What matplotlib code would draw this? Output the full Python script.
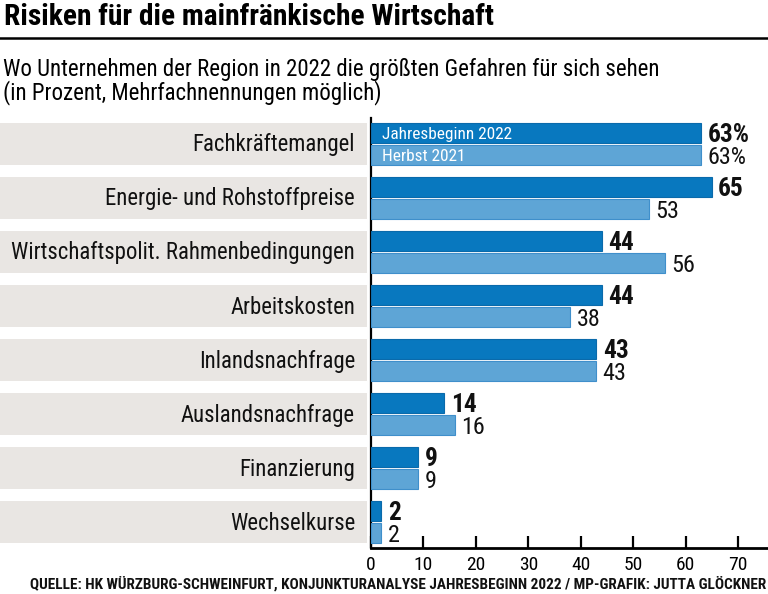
import numpy as np
import matplotlib
matplotlib.use("Agg")
import matplotlib.pyplot as plt
from matplotlib import font_manager as fm
from matplotlib.patches import Rectangle
import matplotlib.transforms as mtransforms

# ---------------- data ----------------
categories = [
    "Fachkräftemangel",
    "Energie- und Rohstoffpreise",
    "Wirtschaftspolit. Rahmenbedingungen",
    "Arbeitskosten",
    "Inlandsnachfrage",
    "Auslandsnachfrage",
    "Finanzierung",
    "Wechselkurse",
]
jahresbeginn_2022 = [63, 65, 44, 44, 43, 14, 9, 2]
herbst_2021 = [63, 53, 56, 38, 43, 16, 9, 2]
series_names = ["Jahresbeginn 2022", "Herbst 2021"]
x_ticks = [0, 10, 20, 30, 40, 50, 60, 70]

title = "Risiken für die mainfränkische Wirtschaft"
subtitle1 = "Wo Unternehmen der Region in 2022 die größten Gefahren für sich sehen"
subtitle2 = "(in Prozent, Mehrfachnennungen möglich)"
source = ("QUELLE: HK WÜRZBURG-SCHWEINFURT, KONJUNKTURANALYSE JAHRESBEGINN 2022 / "
          "MP-GRAFIK: JUTTA GLÖCKNER")

# ---------------- font choice (prefer a condensed face) ----------------
entries = fm.fontManager.ttflist
names = {f.name for f in entries}
FONT, STRETCH = None, "normal"
for cand in ["Liberation Sans Narrow", "Roboto Condensed", "Open Sans Condensed",
             "Noto Sans Condensed", "DejaVu Sans Condensed", "Arial Narrow"]:
    if cand in names:
        FONT = cand
        break
if FONT is None:
    for pref in ["Roboto", "Noto Sans", "Open Sans", "DejaVu Sans", "Lato", "Inter"]:
        ok = [f for f in entries if f.name == pref and str(f.stretch) in
              ("condensed", "semi-condensed", "extra-condensed", "ultra-condensed", "300", "400")]
        if ok:
            FONT, STRETCH = pref, "condensed"
            break
if FONT is None:
    FONT = "Roboto" if "Roboto" in names else "DejaVu Sans"
plt.rcParams["font.family"] = [FONT, "DejaVu Sans"]
plt.rcParams["font.stretch"] = STRETCH

DARK = "#0878bf"
DARK_EDGE = "#0a6aab"
LIGHT = "#5ea5d6"
LIGHT_EDGE = "#3f8fcb"
BAND = "#e9e6e3"

W, H = 768, 594
fig = plt.figure(figsize=(W / 100, H / 100), dpi=100)

def fx(px):
    return px / W

def fy(py):
    return 1 - py / H

ax_left, ax_right, ax_top, ax_bot = 371, 768, 118, 548
ax = fig.add_axes([fx(ax_left), fy(ax_bot), (ax_right - ax_left) / W, (ax_bot - ax_top) / H])

px_per_unit = (738 - 371) / 70.0
ax.set_xlim(0, (ax_right - ax_left) / px_per_unit)
n = len(categories)
y = np.arange(n)
row_px = (ax_bot - ax_top) / (n - 1 + 0.477 + 0.475)
ax.set_ylim(n - 1 + 0.475, -0.477)

off = 11 / row_px
bh = 20 / row_px
ax.barh(y - off, jahresbeginn_2022, height=bh, color=DARK, edgecolor=DARK_EDGE, linewidth=0.8, zorder=3)
ax.barh(y + off, herbst_2021, height=bh, color=LIGHT, edgecolor=LIGHT_EDGE, linewidth=0.8, zorder=3)

# background bands for categories (left of the axis)
trans = mtransforms.blended_transform_factory(fig.transFigure, ax.transData)
band_h = 42 / row_px
for i in y:
    ax.add_artist(Rectangle((0, i - band_h / 2), fx(367), band_h, transform=trans,
                            facecolor=BAND, edgecolor="none", clip_on=False, zorder=0))

# spines / ticks
for s in ["top", "right"]:
    ax.spines[s].set_visible(False)
ax.spines["left"].set_linewidth(1.6)
ax.spines["bottom"].set_linewidth(2.0)
ax.set_yticks([])
ax.set_xticks(x_ticks)
ax.set_xticklabels([str(t) for t in x_ticks])
ax.tick_params(axis="x", direction="in", length=9, width=1.6, pad=6, labelsize=14, colors="black")

# category labels
cat_texts = []
for i, c in enumerate(categories):
    t = ax.text(fx(355), i + 7.5 / row_px, c, transform=trans, ha="right", va="baseline",
                fontsize=16, color="#111111")
    cat_texts.append(t)

# value labels
dark_texts, light_texts = [], []
for i in range(n):
    suffix = "%" if i == 0 else ""
    t1 = ax.annotate(f"{jahresbeginn_2022[i]}{suffix}", (jahresbeginn_2022[i], i - off),
                     xytext=(4.5, -6.3), textcoords="offset points", ha="left", va="baseline",
                     fontsize=17, fontweight="bold", color="#111111")
    t2 = ax.annotate(f"{herbst_2021[i]}{suffix}", (herbst_2021[i], i + off),
                     xytext=(4.5, -6.3), textcoords="offset points", ha="left", va="baseline",
                     fontsize=17, color="#111111")
    dark_texts.append(t1)
    light_texts.append(t2)

# legend labels inside first bars
leg1 = ax.annotate(series_names[0], (0, 0 - off), xytext=(8, -4.6), textcoords="offset points",
                   ha="left", va="baseline", fontsize=12, color="white", zorder=5)
leg2 = ax.annotate(series_names[1], (0, 0 + off), xytext=(8, -4.6), textcoords="offset points",
                   ha="left", va="baseline", fontsize=12, color="white", zorder=5)

# titles
t_title = fig.text(fx(4), fy(25), title, ha="left", va="baseline", fontsize=20, fontweight="bold")
t_sub1 = fig.text(fx(3), fy(76), subtitle1, ha="left", va="baseline", fontsize=16)
t_sub2 = fig.text(fx(3), fy(99), subtitle2, ha="left", va="baseline", fontsize=16)
t_src = fig.text(fx(766), fy(589), source, ha="right", va="baseline", fontsize=10.5, fontweight="bold",
                 color="#111111")

fig.add_artist(plt.Line2D([0, 1], [fy(37.5), fy(37.5)], transform=fig.transFigure,
                          color="black", linewidth=1.8))

# fit widths to reference measurements
fig.canvas.draw()
r = fig.canvas.get_renderer()

def fit(t, target):
    w = t.get_window_extent(r).width
    return t.get_fontsize() * target / w

s = fit(t_title, 488); t_title.set_fontsize(s)
s = fit(t_sub1, 660); t_sub1.set_fontsize(s); t_sub2.set_fontsize(s)
s = fit(t_src, 738); t_src.set_fontsize(s)
s = fit(cat_texts[2], 343)
for t in cat_texts:
    t.set_fontsize(s)
s = fit(leg1, 129); leg1.set_fontsize(s); leg2.set_fontsize(s)
s = fit(dark_texts[0], 42)
for t in dark_texts:
    t.set_fontsize(s)
s = fit(light_texts[0], 39)
for t in light_texts:
    t.set_fontsize(s)

fig.savefig("out.png", dpi=100, facecolor="white")
